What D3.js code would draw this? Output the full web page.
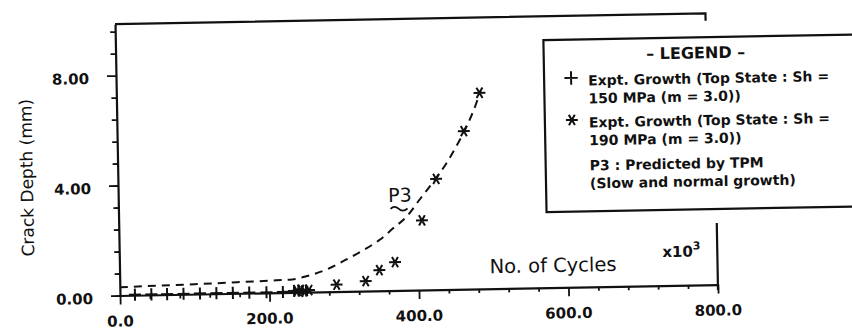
<!DOCTYPE html>
<html>
<head>
<meta charset="utf-8">
<script src="https://cdn.jsdelivr.net/npm/d3@7"></script>
<style>
	body { margin: 0; background: #fff; }
	svg { display: block; }
	text { fill: #111; font-family: "DejaVu Sans", sans-serif; }
</style>
</head>
<body>
<div id="plot"></div>
<script>
/* crack growth chart, P3 vs experiment */

// 150 MPa series (+), sits on the axis
const plusX = [20, 42, 63, 85, 107, 129, 151, 173, 196, 218, 233, 239, 244, 249]
const plusY = [0.02, 0.02, 0.02, 0.02, 0.02, 0.02, 0.02, 0.02, 0.02, 0.02, 0.05, 0.06, 0.04, 0.06]

// 190 MPa series (*)
const starX = [237, 242, 247, 253, 290, 329, 347.5, 368.7, 405.7, 425.7, 463.9, 485.8]
const starY = [0.05, 0.08, 0.04, 0.07, 0.25, 0.36, 0.75, 1.03, 2.53, 4.03, 5.75, 7.13]

// P3 predicted curve (dashed)
const p3X = [0, 50, 100, 150, 200, 231, 241, 260, 277, 303.8, 326, 349.2, 366.5, 385.8, 403.2, 422.6, 440.1, 455.6, 468, 481.5, 487]
const p3Y = [0.30, 0.33, 0.36, 0.40, 0.44, 0.47, 0.52, 0.65, 0.81, 1.16, 1.48, 1.86, 2.25, 2.69, 3.29, 3.95, 4.60, 5.30, 5.93, 6.77, 7.20]

const xTicks = [0, 40, 80, 120, 160, 200, 240, 280, 320, 360, 400, 440, 480, 520, 560, 600, 640, 680, 720, 760, 800]
const xLabels = [0, 200, 400, 600, 800]
const yTicks = [0, 0.8, 1.6, 2.4, 3.2, 4.0, 4.8, 5.6, 6.4, 7.2, 8.0, 8.8, 9.6]
const yLabels = [0, 4, 8]

const legendLines = [
	"Expt. Growth (Top State : Sh =", "150 MPa (m = 3.0))",
	"Expt. Growth (Top State : Sh =", "190 MPa (m = 3.0))",
	"P3 : Predicted by TPM", "(Slow and normal growth)"
]

const W = 852, H = 331
const yTop = 9.87

const x = d3.scaleLinear().domain([0, 800]).range([120, 718])
const y = d3.scaleLinear().domain([0, yTop]).range([295.5, 295.5 - yTop * 27.5])

const svg = d3.select("#plot").append("svg")
	.attr("width", W).attr("height", H)
	.attr("viewBox", [0, 0, W, H])

// the scan is tilted about a degree
const g = svg.append("g").attr("transform", "rotate(-1.05,120,295.5)")

const isMajor = (v, step) => Math.abs(v - Math.round(v / step) * step) < 1e-6

// y axis
const yAxis = g.append("g")
	.attr("transform", `translate(${x(0)},0)`)
	.call(d3.axisLeft(y).tickValues(yTicks).tickSizeOuter(0).tickFormat(""))
yAxis.select(".domain").attr("stroke", "#111").attr("stroke-width", 2.2)
yAxis.selectAll(".tick line")
	.attr("stroke", "#111").attr("stroke-width", 1.8)
	.attr("x2", d => isMajor(d, 4) ? -9 : -5)

g.selectAll(".ylab").data(yLabels).join("text")
	.attr("class", "ylab")
	.attr("x", x(0) - 27).attr("y", d => y(d) + 8)
	.attr("text-anchor", "end")
	.style("font-size", "15px").style("font-weight", "bold")
	.text(d => d.toFixed(2))

// x axis
const xAxis = g.append("g")
	.attr("transform", `translate(0,${y(0)})`)
	.call(d3.axisBottom(x).tickValues(xTicks).tickSizeOuter(0).tickFormat(""))
xAxis.select(".domain").attr("stroke", "#111").attr("stroke-width", 2.2)
xAxis.selectAll(".tick line")
	.attr("stroke", "#111").attr("stroke-width", 1.8)
	.attr("y2", d => isMajor(d, 200) ? 9 : 4)

g.selectAll(".xlab").data(xLabels).join("text")
	.attr("class", "xlab")
	.attr("x", d => x(d)).attr("y", y(0) + 31)
	.attr("text-anchor", "middle")
	.style("font-size", "15px").style("font-weight", "bold")
	.text(d => d.toFixed(1))

// frame bits: top line with a short drop, short right edge
g.append("path")
	.attr("fill", "none").attr("stroke", "#111").attr("stroke-width", 2.2)
	.attr("d", d3.line()([[x(0), y(yTop)], [x(790), y(yTop)], [x(790), y(9.6)]]))
g.append("path")
	.attr("fill", "none").attr("stroke", "#111").attr("stroke-width", 2.2)
	.attr("d", d3.line()([[x(800), y(-0.2)], [x(800), y(2.24)]]))

// axis titles
g.append("text")
	.attr("transform", "translate(29,176) rotate(-90)")
	.attr("text-anchor", "middle").attr("dy", "0.35em")
	.style("font-size", "17px")
	.text("Crack Depth (mm)")

g.append("text")
	.attr("x", 490).attr("y", 280)
	.style("font-size", "19.5px")
	.text("No. of Cycles")

const xt = g.append("text")
	.attr("x", 663).attr("y", 267)
	.style("font-size", "15px").style("font-weight", "bold")
xt.append("tspan").text("x10")
xt.append("tspan").attr("dy", -7).style("font-size", "11px").text("3")

// P3 curve
const line = d3.line()
	.x(d => x(d[0]))
	.y(d => y(d[1]))
	.curve(d3.curveMonotoneX)

g.append("path")
	.datum(p3X.map((v, i) => [v, p3Y[i]]))
	.attr("fill", "none")
	.attr("stroke", "#111")
	.attr("stroke-width", 2)
	.attr("stroke-dasharray", "8,6")
	.attr("d", line)

g.append("text")
	.attr("x", x(361)).attr("y", y(3.22))
	.style("font-size", "19px")
	.text("P3")
g.append("path")
	.attr("transform", `translate(${x(364)},${y(2.97)})`)
	.attr("fill", "none").attr("stroke", "#111").attr("stroke-width", 1.8)
	.attr("d", "M0,0 q4,-4 8,0 t9,0")

// markers
const plusSym = d3.symbol().type(d3.symbolPlus).size(50)
const starSym = d3.symbol().type(d3.symbolAsterisk).size(100)

g.selectAll(".plus").data(plusX.map((v, i) => [v, plusY[i]])).join("path")
	.attr("class", "plus")
	.attr("transform", d => `translate(${x(d[0])},${y(d[1])})`)
	.attr("d", plusSym)
	.attr("fill", "none").attr("stroke", "#111").attr("stroke-width", 2)

g.selectAll(".star").data(starX.map((v, i) => [v, starY[i]])).join("path")
	.attr("class", "star")
	.attr("transform", d => `translate(${x(d[0])},${y(d[1])}) rotate(90)`)
	.attr("d", starSym)
	.attr("fill", "none").attr("stroke", "#111").attr("stroke-width", 2)

// legend
const lg = g.append("g")
lg.append("rect")
	.attr("x", 548).attr("y", 48).attr("width", 340).attr("height", 172)
	.attr("fill", "#fff").attr("stroke", "#111").attr("stroke-width", 2.2)

lg.append("text")
	.attr("x", 700).attr("y", 69)
	.attr("text-anchor", "middle")
	.style("font-size", "16px").style("font-weight", "bold")
	.text("– LEGEND –")

const lineY = [94, 112, 136, 154, 179, 197]
lg.selectAll(".lgt").data(legendLines).join("text")
	.attr("class", "lgt")
	.attr("x", 592).attr("y", (d, i) => lineY[i])
	.style("font-size", "14px").style("font-weight", "bold")
	.text(d => d)

lg.append("path")
	.attr("transform", "translate(575,86.3)")
	.attr("d", d3.symbol().type(d3.symbolPlus).size(60))
	.attr("fill", "none").attr("stroke", "#111").attr("stroke-width", 2)
lg.append("path")
	.attr("transform", "translate(575,128.3) rotate(90)")
	.attr("d", starSym)
	.attr("fill", "none").attr("stroke", "#111").attr("stroke-width", 2)
</script>
</body>
</html>
